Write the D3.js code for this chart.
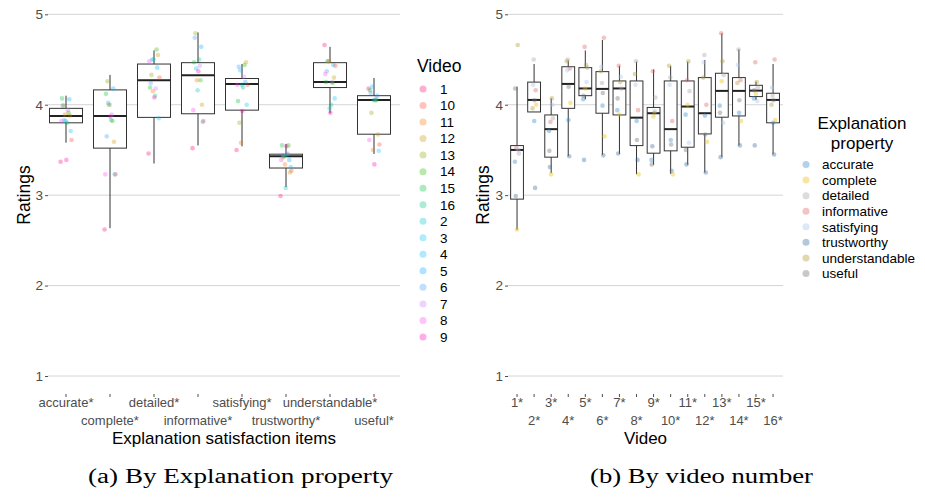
<!DOCTYPE html>
<html>
<head>
<meta charset="utf-8">
<script src="https://cdn.jsdelivr.net/npm/d3@7"></script>
<style>
  body { margin: 0; background: #fff; }
  text { font-family: "Liberation Sans", Arial, sans-serif; }
</style>
</head>
<body>
<svg id="chart" width="925" height="498"></svg>
<script>
// categories
const properties = ["accurate", "complete", "detailed", "informative", "satisfying", "trustworthy", "understandable", "useful"];
const propertyTicks = ["accurate*", "complete*", "detailed*", "informative*", "satisfying*", "trustworthy*", "understandable*", "useful*"];
const videos = [1, 2, 3, 4, 5, 6, 7, 8, 9, 10, 11, 12, 13, 14, 15, 16];
const videoTicks = ["1*", "2*", "3*", "4*", "5*", "6*", "7*", "8*", "9*", "10*", "11*", "12*", "13*", "14*", "15*", "16*"];
const videoLevels = ["1", "10", "11", "12", "13", "14", "15", "16", "2", "3", "4", "5", "6", "7", "8", "9"];
const ratingTicks = [1, 2, 3, 4, 5];

// mean rating per video (1..16) for each property
const rAccurate       = [3.37, 3.82, 3.71, 3.83, 4.06, 3.99, 3.94, 3.82, 3.39, 3.61, 3.89, 3.88, 3.99, 3.91, 4.07, 3.80];
const rComplete       = [2.62, 4.00, 3.23, 4.02, 4.18, 3.65, 3.89, 3.23, 3.87, 3.23, 4.00, 3.59, 4.26, 3.82, 4.12, 3.83];
const rDetailed       = [3.46, 4.50, 3.85, 4.50, 4.41, 4.24, 4.18, 4.48, 4.08, 4.30, 4.15, 4.55, 4.33, 4.61, 4.19, 4.10];
const rInformative    = [3.52, 4.16, 3.81, 4.40, 4.64, 4.74, 4.43, 3.94, 4.37, 3.82, 4.27, 4.00, 4.79, 4.27, 4.47, 4.50];
const rSatisfying     = [3.50, 4.22, 4.00, 4.38, 4.25, 4.42, 4.31, 4.22, 3.93, 4.22, 3.58, 4.47, 3.80, 4.44, 4.04, 4.19];
const rTrustworthy    = [2.99, 3.08, 3.31, 3.43, 3.39, 3.44, 3.46, 3.39, 3.54, 3.27, 3.34, 3.25, 3.42, 3.55, 3.55, 3.45];
const rUnderstandable = [4.66, 3.96, 4.07, 4.48, 4.44, 4.37, 4.25, 4.34, 3.91, 4.43, 4.48, 4.30, 4.48, 4.24, 4.25, 4.00];
const rUseful         = [4.18, 4.05, 3.49, 4.20, 4.10, 4.13, 4.07, 3.61, 3.34, 3.56, 3.50, 3.67, 3.91, 4.05, 4.16, 4.05];

// box stats, panel (a) by property
const propLo  = [3.58, 2.635, 3.35, 3.55, 3.54, 3.09, 3.906, 3.456];
const propQ1  = [3.80, 3.52, 3.86, 3.90, 3.94, 3.30, 4.19, 3.674];
const propMed = [3.876, 3.876, 4.27, 4.326, 4.23, 3.43, 4.25, 4.053];
const propQ3  = [3.96, 4.164, 4.45, 4.465, 4.29, 3.453, 4.465, 4.10];
const propHi  = [4.10, 4.33, 4.60, 4.80, 4.45, 3.567, 4.64, 4.296];

// box stats, panel (b) by video
const vidLo  = [2.617, 3.92, 3.243, 3.43, 4.06, 3.445, 3.456, 3.232, 3.335, 3.235, 3.335, 3.25, 3.42, 3.548, 4.053, 3.45];
const vidQ1  = [2.956, 3.92, 3.42, 3.96, 4.10, 3.906, 3.887, 3.548, 3.464, 3.49, 3.53, 3.677, 3.862, 3.876, 4.09, 3.80];
const vidMed = [3.50, 4.053, 3.73, 4.23, 4.18, 4.175, 4.18, 3.857, 3.906, 3.73, 3.98, 3.906, 4.153, 4.153, 4.156, 4.053];
const vidQ3  = [3.548, 4.25, 3.887, 4.42, 4.41, 4.366, 4.263, 4.263, 3.97, 4.263, 4.263, 4.30, 4.348, 4.30, 4.215, 4.127];
const vidHi  = [4.20, 4.45, 4.07, 4.49, 4.60, 4.716, 4.43, 4.476, 4.39, 4.43, 4.476, 4.495, 4.79, 4.613, 4.255, 4.45];

const propertyColors = ["#3d8fd1", "#edc011", "#a7a7a7", "#de6b6b", "#a7c5eb", "#4375a7", "#b19d39", "#767676"];

const ratings = {
  accurate: rAccurate, complete: rComplete, detailed: rDetailed, informative: rInformative,
  satisfying: rSatisfying, trustworthy: rTrustworthy, understandable: rUnderstandable, useful: rUseful
};

const SANS = '"Liberation Sans", Arial, sans-serif';

// ggplot default hue palette for the video levels
const videoColor = d3.scaleOrdinal()
  .domain(videoLevels)
  .range(videoLevels.map((d, i) => d3.hcl(15 + 360 * i / videoLevels.length, 100, 65).formatHex()));
const propColor = d3.scaleOrdinal().domain(properties).range(propertyColors);

const svg = d3.select("#chart");
svg.append("rect").attr("width", 925).attr("height", 498).attr("fill", "#fff");

const y = d3.scaleLinear().domain([1, 5]).range([376, 14.3]);
const jit = i => ((i * 7) % 16) / 15 - 0.5;

function panel(opt) {
  const g = svg.append("g");
  const x = d3.scaleBand().domain(opt.cats).range(opt.range).paddingInner(0.25).paddingOuter(0.125);

  // grid
  g.selectAll("line.grid")
    .data(ratingTicks)
    .enter()
    .append("line")
    .attr("x1", opt.gridX[0]).attr("x2", opt.gridX[1])
    .attr("y1", d => y(d)).attr("y2", d => y(d))
    .attr("stroke", "#d4d4d4").attr("stroke-width", 1);

  // y axis
  const ya = g.append("g")
    .attr("transform", "translate(" + opt.gridX[0] + ",0)")
    .call(d3.axisLeft(y).tickValues(ratingTicks).tickFormat(d3.format("d")).tickSize(3).tickPadding(2));
  ya.select(".domain").remove();
  ya.selectAll("line").attr("stroke", "#4d4d4d");
  ya.selectAll("text").attr("fill", "#4d4d4d").style("font-size", "13.5px").style("font-family", SANS);

  // x axis, labels dodged on two rows
  const xa = g.append("g")
    .attr("transform", "translate(0,394)")
    .call(d3.axisBottom(x).tickSize(3).tickFormat((d, i) => opt.ticks[i]));
  xa.select(".domain").remove();
  xa.selectAll("line").attr("stroke", "#4d4d4d");
  xa.selectAll("text")
    .attr("y", (d, i) => i % 2 == 0 ? 4 : 21.5)
    .attr("fill", "#4d4d4d").style("font-size", "13px").style("font-family", SANS);

  const cx = d => x(d) + x.bandwidth() / 2;

  // whiskers
  g.selectAll("line.whisk")
    .data(opt.cats)
    .enter()
    .append("line")
    .attr("x1", cx).attr("x2", cx)
    .attr("y1", (d, i) => y(opt.hi[i])).attr("y2", (d, i) => y(opt.lo[i]))
    .attr("stroke", "#333").attr("stroke-width", 1);

  // boxes
  g.selectAll("rect.box")
    .data(opt.cats)
    .enter()
    .append("rect")
    .attr("x", d => x(d)).attr("width", x.bandwidth())
    .attr("y", (d, i) => y(opt.q3[i])).attr("height", (d, i) => y(opt.q1[i]) - y(opt.q3[i]))
    .attr("fill", "#fff").attr("stroke", "#333").attr("stroke-width", 1);

  g.selectAll("line.med")
    .data(opt.cats)
    .enter()
    .append("line")
    .attr("x1", d => x(d)).attr("x2", d => x(d) + x.bandwidth())
    .attr("y1", (d, i) => y(opt.med[i])).attr("y2", (d, i) => y(opt.med[i]))
    .attr("stroke", "#222").attr("stroke-width", 2);

  // jittered points
  g.selectAll("circle.pt")
    .data(opt.points)
    .enter()
    .append("circle")
    .attr("cx", (d, i) => cx(d.cat) + jit(i) * x.bandwidth() * 0.33)
    .attr("cy", d => y(d.value))
    .attr("r", 2.3)
    .attr("fill", d => d.color)
    .attr("fill-opacity", opt.alpha);

  // axis titles
  g.append("text")
    .attr("x", (opt.gridX[0] + opt.gridX[1]) / 2).attr("y", 444)
    .attr("text-anchor", "middle").style("font-size", "17px")
    .text(opt.title);
  g.append("text")
    .attr("transform", "translate(" + opt.ratingsX + ",195) rotate(-90)")
    .attr("text-anchor", "middle").style("font-size", "17.5px")
    .text("Ratings");

  g.append("text")
    .attr("x", opt.caption[1]).attr("y", 483)
    .attr("textLength", opt.caption[2]).attr("lengthAdjust", "spacingAndGlyphs")
    .style("font-family", '"Liberation Serif", "Times New Roman", serif').style("font-size", "20px")
    .text(opt.caption[0]);
}

const pointsByProp = [];
const pointsByVideo = [];
properties.forEach(p => {
  videos.forEach((v, j) => {
    pointsByProp.push({cat: p, value: ratings[p][j], color: videoColor(String(v))});
  });
});
videos.forEach((v, j) => {
  properties.forEach(p => {
    pointsByVideo.push({cat: v, value: ratings[p][j], color: propColor(p)});
  });
});

panel({
  cats: properties, ticks: propertyTicks, range: [44, 396], gridX: [48, 400],
  lo: propLo, q1: propQ1, med: propMed, q3: propQ3, hi: propHi,
  points: pointsByProp, alpha: 0.32,
  title: "Explanation satisfaction items", ratingsX: 30,
  caption: ["(a) By Explanation property", 88, 305]
});

panel({
  cats: videos, ticks: videoTicks, range: [508.5, 781.6], gridX: [508, 783],
  lo: vidLo, q1: vidQ1, med: vidMed, q3: vidQ3, hi: vidHi,
  points: pointsByVideo, alpha: 0.4,
  title: "Video", ratingsX: 489,
  caption: ["(b) By video number", 590, 223]
});

// legend: Video
const lv = svg.append("g");
lv.append("text").attr("x", 417).attr("y", 72).style("font-size", "17.5px").text("Video");
lv.selectAll("circle")
  .data(videoLevels)
  .enter()
  .append("circle")
  .attr("cx", 423).attr("cy", (d, i) => 89 + i * 16.53).attr("r", 3.5)
  .attr("fill", d => videoColor(d)).attr("fill-opacity", 0.32);
lv.selectAll("text.lab")
  .data(videoLevels)
  .enter()
  .append("text")
  .attr("x", 440).attr("y", (d, i) => 89 + i * 16.53 + 4.8)
  .style("font-size", "13.5px")
  .text(d => d);

// legend: Explanation property
const lp = svg.append("g");
lp.append("text").attr("x", 862).attr("y", 129).attr("text-anchor", "middle")
  .style("font-size", "17px").text("Explanation");
lp.append("text").attr("x", 862).attr("y", 149).attr("text-anchor", "middle")
  .style("font-size", "17px").text("property");
lp.selectAll("circle")
  .data(properties)
  .enter()
  .append("circle")
  .attr("cx", 806).attr("cy", (d, i) => 164.5 + i * 15.57).attr("r", 3.5)
  .attr("fill", d => propColor(d)).attr("fill-opacity", 0.4);
lp.selectAll("text.lab")
  .data(properties)
  .enter()
  .append("text")
  .attr("x", 822).attr("y", (d, i) => 164.5 + i * 15.57 + 4.8)
  .style("font-size", "13.5px")
  .text(d => d);
</script>
</body>
</html>
